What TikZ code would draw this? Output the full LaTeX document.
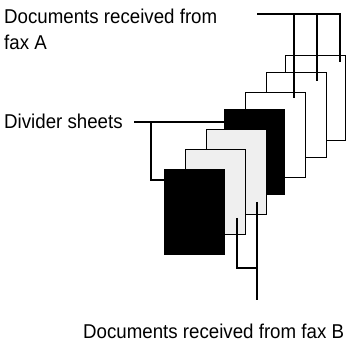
\documentclass[tikz,border=0pt]{standalone}
\usepackage{fontspec}
\setmainfont[FakeStretch=0.935]{Liberation Sans}
\definecolor{sheetgray}{HTML}{EFEFEF}
\begin{document}
\begin{tikzpicture}[x=1pt,y=-1pt,
  sheet/.style={draw=black,line width=1.2pt,rectangle,inner sep=0pt,anchor=north west,
    minimum width=60pt,minimum height=85pt},
  whitesheet/.style={sheet,fill=white},
  graysheet/.style={sheet,fill=sheetgray},
  blacksheet/.style={sheet,fill=black},
  lead/.style={line width=2pt,line cap=rect,line join=miter},
  lbl/.style={inner sep=0pt,font=\fontsize{20}{26}\selectfont}]
\useasboundingbox (0,0) rectangle (346,342);
% sheets from back to front
\node[whitesheet] (s1) at (285,55) {};
\node[whitesheet] (s2) at (266,72) {};
\node[whitesheet] (s3) at (245,92) {};
\node[blacksheet] (s4) at (224,109) {};
\node[graysheet]  (s5) at (206,129) {};
\node[graysheet]  (s6) at (185,149) {};
\node[blacksheet] (s7) at (164,169) {};
% labels
\node[lbl,anchor=base west] (la) at (4,24) {Documents received from};
\node[lbl,anchor=base west] (la2) at (4,50) {fax A};
\node[lbl,anchor=base west] (ld) at (4,129) {Divider sheets};
\node[lbl,anchor=base west] (lb) at (83,338) {Documents received from fax B};
% fax A leader
\coordinate (a0) at (258,14);
\coordinate (a1) at (294,14);
\coordinate (a2) at (317,14);
\coordinate (a3) at (340,14);
\coordinate (e1) at (294,97);
\coordinate (e2) at (317,80);
\coordinate (e3) at (340,61);
\draw[lead] (a0) -- (a3) -- (e3);
\draw[lead] (a1) -- (e1);
\draw[lead] (a2) -- (e2);
% divider leader
\coordinate (d0) at (134,122);
\coordinate (d1) at (150.5,122);
\coordinate (d2) at (150.5,180);
\draw[lead,line cap=butt] (d0) -- (s4.west |- d0);
\draw[lead,line cap=butt] (d1) -- (d2) -- (s7.west |- d2);
% fax B leader
\coordinate (b1) at (257,202);
\coordinate (b2) at (257,300);
\coordinate (c1) at (237,218);
\coordinate (c2) at (237,268);
\draw[lead,line cap=butt] (b1) -- (b2);
\draw[lead,line cap=butt] (c1) -- (c2) -- (b1 |- c2);
\end{tikzpicture}
\end{document}
